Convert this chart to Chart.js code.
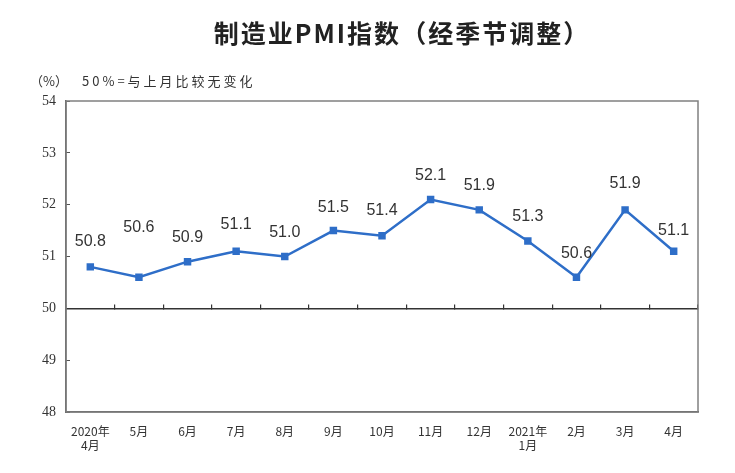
<!DOCTYPE html>
<html>
<head>
<meta charset="utf-8">
<script src="https://cdn.jsdelivr.net/npm/chart.js@4.4.0/dist/chart.umd.min.js"></script>
<style>
  html, body { margin: 0; padding: 0; background: #fff; }
  #wrap { width: 735px; height: 473px; }
</style>
</head>
<body>
<div id="wrap"><canvas id="pmi"></canvas></div>
<script>
// month labels, two-line ones for the year change
const months = [['2020年', '4月'], '5月', '6月', '7月', '8月', '9月', '10月', '11月', '12月', ['2021年', '1月'], '2月', '3月', '4月'];
const pmi = [50.8, 50.6, 50.9, 51.1, 51.0, 51.5, 51.4, 52.1, 51.9, 51.3, 50.6, 51.9, 51.1];
const yMin = 48;
const yMax = 54;
const baseline = 50;

const titleText = '制造业PMI指数（经季节调整）';
const unitText = '（%）';
const noteText = '50%=与上月比较无变化';

// how far above each point its value sits (the second one is pushed higher in the original)
const labelLift = [25, 50, 24, 27, 24, 23, 25, 24, 24, 24, 24, 26, 21];

const lineBlue = 'rgb(46, 110, 200)';

// title, unit note, frame and value labels
const extras = {
    id: 'extras',
    afterDraw(chart) {
        const ctx = chart.ctx;
        const area = chart.chartArea;
        ctx.save();

        // frame round the plot
        ctx.strokeStyle = '#808080';
        ctx.lineWidth = 1.5;
        ctx.strokeRect(area.left, area.top, area.right - area.left, area.bottom - area.top);

        ctx.fillStyle = '#222';
        ctx.textAlign = 'center';
        ctx.textBaseline = 'middle';
        ctx.font = 'bold 25px "Noto Sans CJK SC"';
        ctx.letterSpacing = '2px';
        ctx.fillText(titleText, 402, 33);

        ctx.fillStyle = '#333';
        ctx.textAlign = 'left';
        ctx.font = '13px "Noto Sans CJK SC"';
        ctx.letterSpacing = '0px';
        ctx.fillText(unitText, 30, 81);
        ctx.letterSpacing = '3px';
        ctx.fillText(noteText, 82, 81);

        // value labels over the points
        ctx.letterSpacing = '0px';
        ctx.textAlign = 'center';
        ctx.font = '16px "Liberation Sans"';
        ctx.fillStyle = '#333';
        const meta = chart.getDatasetMeta(0);
        meta.data.forEach((pt, i) => {
            ctx.fillText(pmi[i].toFixed(1), pt.x, pt.y - labelLift[i]);
        });
        ctx.restore();
    }
};

let ctx = document.getElementById('pmi').getContext('2d');

let chart = new Chart(ctx, {
    type: 'line',
    data: {
        labels: months,
        datasets: [{
            label: '制造业PMI',
            data: pmi,
            borderColor: lineBlue,
            backgroundColor: lineBlue,
            borderWidth: 2.5,
            pointStyle: 'rect',
            pointRadius: 3.5,
            pointHoverRadius: 3.5,
            tension: 0,
            xAxisID: 'x',
            yAxisID: 'y'
        }]
    },
    options: {
        responsive: true,
        maintainAspectRatio: false,
        animation: false,
        layout: {
            padding: { top: 101, right: 37, bottom: 0, left: 0 }
        },
        plugins: {
            legend: { display: false },
            title: { display: false },
            tooltip: { enabled: false }
        },
        scales: {
            x: {
                type: 'category',
                offset: true,
                grid: { display: false, drawTicks: false },
                border: { display: true, color: '#555', width: 1.5 },
                ticks: {
                    color: '#333',
                    font: { family: '"Noto Sans CJK SC"', size: 12 },
                    padding: 12,
                    maxRotation: 0,
                    autoSkip: false
                },
                afterFit: (scale) => { scale.height = 61; }
            },
            // axis on the 50 line, carrying the small category ticks
            mid: {
                type: 'category',
                axis: 'x',
                offset: true,
                position: { y: baseline },
                grid: {
                    offset: true,
                    drawOnChartArea: false,
                    tickLength: -5,
                    color: '#333',
                    lineWidth: 1.2
                },
                border: { display: true, color: '#333', width: 1.5 },
                ticks: { display: false }
            },
            y: {
                min: yMin,
                max: yMax,
                ticks: {
                    stepSize: 1,
                    color: '#333',
                    font: { family: '"Liberation Serif"', size: 14 },
                    padding: 14
                },
                grid: {
                    drawOnChartArea: false,
                    tickLength: -4,
                    color: '#555'
                },
                border: { display: true, color: '#555', width: 1.5 },
                afterFit: (scale) => { scale.width = 66; }
            }
        }
    },
    plugins: [extras]
});
</script>
</body>
</html>
